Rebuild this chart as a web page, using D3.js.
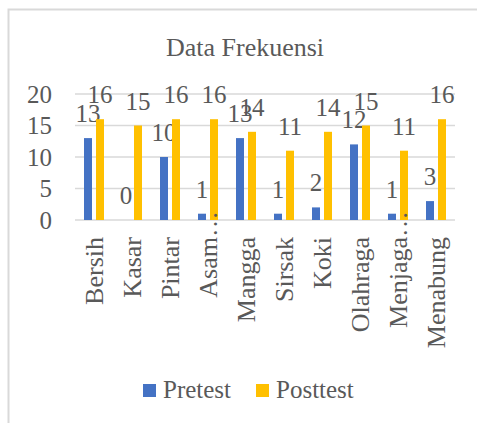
<!DOCTYPE html>
<html>
<head>
<meta charset="utf-8">
<script src="https://cdn.jsdelivr.net/npm/d3@7"></script>
<style>
  body { margin: 0; background: #fff; }
</style>
</head>
<body>
<div id="chart"></div>
<script>
// Chart data
const categories = ["Bersih", "Kasar", "Pintar", "Asam…", "Mangga", "Sirsak", "Koki", "Olahraga", "Menjaga…", "Menabung"];
const pretest  = [13, 0, 10, 1, 13, 1, 2, 12, 1, 3];
const posttest = [16, 15, 16, 16, 14, 11, 14, 15, 11, 16];
const seriesNames = ["Pretest", "Posttest"];
const yTicks = [0, 5, 10, 15, 20];

const FONT = "Liberation Serif";
const TXT = "#595959";
const W = 477, H = 423;
const margin = {top: 94, right: 22, bottom: 203, left: 75};
const width = W - margin.left - margin.right;
const height = H - margin.top - margin.bottom;
const colors = ["#4472C4", "#FFC000"];

const root = d3.select("#chart").append("svg")
    .attr("width", W)
    .attr("height", H);

// Chart frame (only top and left edges are visible)
root.append("path")
    .attr("d", `M8.5,${H} L8.5,9.5 L${W},9.5`)
    .attr("fill", "none")
    .attr("stroke", "#d9d9d9")
    .attr("stroke-width", 2);

// Title
root.append("text")
    .attr("x", 245)
    .attr("y", 56)
    .attr("text-anchor", "middle")
    .attr("font-family", FONT)
    .attr("fill", TXT)
    .attr("font-size", 26)
    .text("Data Frekuensi");

const svg = root.append("g")
    .attr("transform", `translate(${margin.left},${margin.top})`);

const xScale = d3.scaleBand().domain(categories).range([0, width]);
const yScale = d3.scaleLinear().domain([0, 20]).range([height, 0]);
const barW = 8, gap = 4;

// Gridlines
svg.selectAll(".grid")
    .data(yTicks)
    .join("line")
    .attr("class", "grid")
    .attr("x1", 0)
    .attr("x2", width)
    .attr("y1", d => yScale(d))
    .attr("y2", d => yScale(d))
    .attr("stroke", "#d9d9d9")
    .attr("stroke-width", 1.5);

// Y-axis labels
const yAxis = svg.append("g")
    .attr("transform", "translate(-23,0)")
    .call(d3.axisLeft(yScale).tickValues(yTicks).tickSize(0).tickPadding(0));
yAxis.select(".domain").remove();
yAxis.attr("font-family", FONT).attr("font-size", 25);
yAxis.selectAll("text").attr("fill", TXT);

// Bars and data labels
const values = [pretest, posttest];
values.forEach((vals, s) => {
    const offset = s === 0 ? -gap / 2 - barW : gap / 2;
    svg.selectAll(".bar" + s)
        .data(categories)
        .join("rect")
        .attr("class", "bar" + s)
        .attr("x", (c) => xScale(c) + xScale.bandwidth() / 2 + offset)
        .attr("y", (c, i) => yScale(vals[i]))
        .attr("width", barW)
        .attr("height", (c, i) => height - yScale(vals[i]))
        .attr("fill", colors[s]);

    svg.selectAll(".lbl" + s)
        .data(categories)
        .join("text")
        .attr("class", "lbl" + s)
        .attr("x", (c) => xScale(c) + xScale.bandwidth() / 2 + offset + barW / 2)
        .attr("y", (c, i) => yScale(vals[i]) - 16)
        .attr("text-anchor", "middle")
        .attr("font-family", FONT)
        .attr("fill", TXT)
        .attr("font-size", 25)
        .text((c, i) => vals[i]);
});

// Category labels, rotated
const labelTop = height + 17;
const cats = svg.selectAll(".cat")
    .data(categories)
    .join("g")
    .attr("class", "cat")
    .attr("font-family", FONT)
    .attr("font-size", 26)
    .attr("fill", TXT)
    .attr("transform", c => `translate(${xScale(c) + xScale.bandwidth() / 2 + 9},${labelTop}) rotate(-90)`);
cats.append("text")
    .attr("text-anchor", "end")
    .text(c => c.replace("…", ""));
cats.filter(c => c.endsWith("…"))
    .append("text")
    .attr("text-anchor", "start")
    .text("…");

// Legend
const legend = root.append("g").attr("transform", "translate(143,384)");
const legendX = [0, 113];
seriesNames.forEach((name, i) => {
    legend.append("rect")
        .attr("x", legendX[i])
        .attr("y", 0)
        .attr("width", 13)
        .attr("height", 13)
        .attr("fill", colors[i]);
    legend.append("text")
        .attr("x", legendX[i] + 20)
        .attr("y", 14)
        .attr("font-family", FONT)
        .attr("fill", TXT)
        .attr("font-size", 25)
        .text(name);
});
</script>
</body>
</html>
